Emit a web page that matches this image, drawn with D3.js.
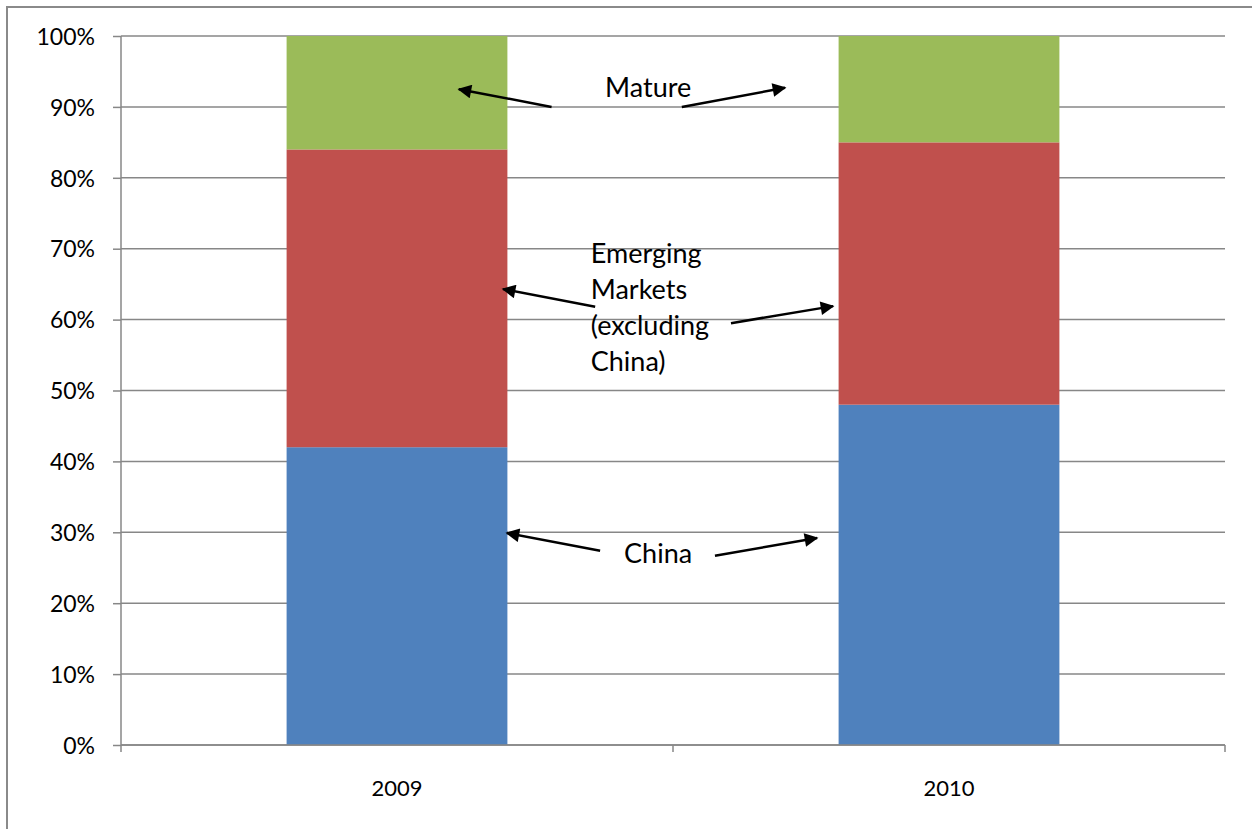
<!DOCTYPE html>
<html>
<head>
<meta charset="utf-8">
<script src="https://cdn.jsdelivr.net/npm/d3@7"></script>
<style>
  body { margin: 0; background: #fff; }
  svg { display: block; font-family: Lato, "Open Sans", sans-serif; }
</style>
</head>
<body>
<svg id="chart" width="1252" height="829"></svg>
<script>
// data (percent of total)
var years = ['2009', '2010'];
var china = [42, 48];
var emerging = [42, 37];
var mature = [16, 15];
var seriesNames = ['China', 'Emerging', 'Mature'];
var seriesColors = ['#4F81BD', '#C0504D', '#9BBB59'];
var yTicks = [0, 10, 20, 30, 40, 50, 60, 70, 80, 90, 100];

// annotation arrows: x in category units (0..2 across the plot), y in percent
var arrowFrom = [[0.780, 90.0], [1.016, 90.0], [0.859, 61.8], [1.105, 59.5], [0.868, 27.4], [1.076, 26.7]];
var arrowTo   = [[0.612, 92.5], [1.203, 92.7], [0.692, 64.3], [1.290, 61.9], [0.699, 29.9], [1.261, 29.2]];
var labelText = ['Mature', 'Emerging|Markets|(excluding|China)', 'China'];
var labelPos  = [[0.955, 91.4], [0.851, 68.0], [0.973, 25.7]];
var labelAnchor = ['middle', 'start', 'middle'];

var svg = d3.select('#chart');
var margin = { left: 121, top: 36, right: 27, bottom: 84 };
var w = 1252 - margin.left - margin.right,
    h = 829 - margin.top - margin.bottom;

// outer frame (runs off the right and bottom edge)
svg.append('rect')
  .attr('x', 7).attr('y', 7)
  .attr('width', 1270).attr('height', 850)
  .attr('fill', 'none')
  .attr('stroke', '#8a8a8a')
  .attr('stroke-width', 2);

var g = svg.append('g').attr('transform', 'translate(' + margin.left + ',' + margin.top + ')');

var x = d3.scaleBand().domain(years).range([0, w]).paddingInner(0.6).paddingOuter(0.3);
var xu = d3.scaleLinear().domain([0, 2]).range([0, w]);
var y = d3.scaleLinear().domain([0, 100]).range([h, 0]);

// gridlines
g.selectAll('.grid')
  .data(yTicks)
  .enter().append('line')
  .attr('x1', 0).attr('x2', w)
  .attr('y1', function (d) { return y(d); })
  .attr('y2', function (d) { return y(d); })
  .attr('stroke', '#878787')
  .attr('stroke-width', 1.5);

// stacked bars
var rows = years.map(function (yr, i) {
  return { year: yr, China: china[i], Emerging: emerging[i], Mature: mature[i] };
});
var stacked = d3.stack().keys(seriesNames)(rows);

g.selectAll('.series')
  .data(stacked)
  .enter().append('g')
  .attr('fill', function (d, i) { return seriesColors[i]; })
  .selectAll('rect')
  .data(function (d) { return d; })
  .enter().append('rect')
  .attr('x', function (d) { return x(d.data.year); })
  .attr('width', x.bandwidth())
  .attr('y', function (d) { return y(d[1]); })
  .attr('height', function (d) { return y(d[0]) - y(d[1]); });

// y axis
var yAxis = g.append('g')
  .call(d3.axisLeft(y).tickValues(yTicks).tickSize(8).tickPadding(18)
    .tickFormat(function (d) { return d + '%'; }));
yAxis.select('.domain').attr('stroke', '#878787').attr('stroke-width', 1.5)
  .attr('d', 'M0,' + h + 'V0');
yAxis.selectAll('.tick line').attr('stroke', '#878787').attr('stroke-width', 1.5);
yAxis.selectAll('text').attr('font-size', 23).attr('fill', '#000').attr('dy', '0.36em')
  .style('font-family', 'Lato, sans-serif');

// x axis: category boundaries as tick marks
var xAxis = g.append('g').attr('transform', 'translate(0,' + h + ')');
xAxis.append('line').attr('x1', 0).attr('x2', w)
  .attr('stroke', '#878787').attr('stroke-width', 1.5);
xAxis.selectAll('.xtick')
  .data([0, 1, 2])
  .enter().append('line')
  .attr('x1', function (d) { return xu(d); })
  .attr('x2', function (d) { return xu(d); })
  .attr('y1', 0).attr('y2', 7)
  .attr('stroke', '#878787').attr('stroke-width', 1.5);
xAxis.selectAll('.xlabel')
  .data(years)
  .enter().append('text')
  .attr('x', function (d) { return x(d) + x.bandwidth() / 2; })
  .attr('y', 51)
  .attr('text-anchor', 'middle')
  .attr('font-size', 22)
  .text(function (d) { return d; });

// annotations
var defs = svg.append('defs');
defs.append('marker')
  .attr('id', 'head')
  .attr('viewBox', '0 0 10 10')
  .attr('refX', 9).attr('refY', 5)
  .attr('markerWidth', 6.5).attr('markerHeight', 5.5)
  .attr('markerUnits', 'strokeWidth')
  .attr('orient', 'auto')
  .append('path')
  .attr('d', 'M0,0L10,5L0,10Z')
  .attr('fill', '#000');

g.selectAll('.arrow')
  .data(arrowFrom)
  .enter().append('line')
  .attr('x1', function (d) { return xu(d[0]); })
  .attr('y1', function (d) { return y(d[1]); })
  .attr('x2', function (d, i) { return xu(arrowTo[i][0]); })
  .attr('y2', function (d, i) { return y(arrowTo[i][1]); })
  .attr('stroke', '#000')
  .attr('stroke-width', 2.5)
  .attr('marker-end', 'url(#head)');

labelText.forEach(function (t, i) {
  var txt = g.append('text')
    .attr('x', xu(labelPos[i][0]))
    .attr('y', y(labelPos[i][1]))
    .attr('text-anchor', labelAnchor[i])
    .attr('font-size', 27)
    .attr('fill', '#000');
  t.split('|').forEach(function (line, j) {
    txt.append('tspan')
      .attr('x', xu(labelPos[i][0]))
      .attr('dy', j === 0 ? 0 : 36)
      .text(line);
  });
});
</script>
</body>
</html>
